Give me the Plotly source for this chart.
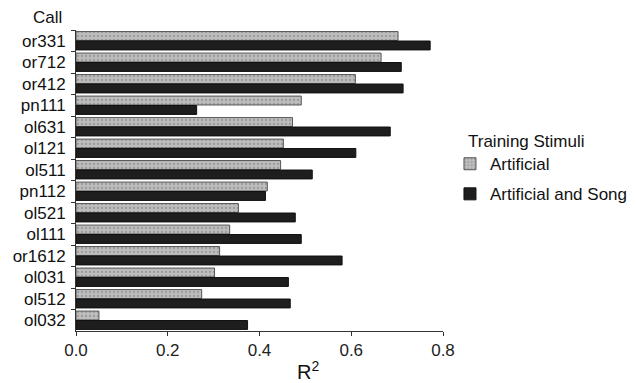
import plotly.graph_objects as go

calls = ["or331", "or712", "or412", "pn111", "ol631", "ol121", "ol511", "pn112",
         "ol521", "ol111", "or1612", "ol031", "ol512", "ol032"]
artificial = [0.702, 0.665, 0.609, 0.491, 0.472, 0.452, 0.446, 0.417,
              0.354, 0.335, 0.313, 0.302, 0.274, 0.050]
artificial_song = [0.772, 0.709, 0.713, 0.263, 0.685, 0.610, 0.515, 0.413,
                   0.478, 0.491, 0.580, 0.463, 0.467, 0.374]
x_ticks = [0.0, 0.2, 0.4, 0.6, 0.8]
x_tick_labels = ["0.0", "0.2", "0.4", "0.6", "0.8"]

FONT = "Liberation Sans, Arial, Helvetica, sans-serif"

fig = go.Figure()
fig.add_trace(go.Bar(
    y=calls, x=artificial, orientation="h", name="Artificial",
    legendgroup="a",
    marker=dict(color="#bdbdbd",
                line=dict(color="#555555", width=1),
                pattern=dict(shape=".", fgcolor="#777777", bgcolor="#bdbdbd",
                             size=4, solidity=0.25)),
))
fig.add_trace(go.Bar(
    y=calls, x=artificial_song, orientation="h", name="Artificial and Song",
    legendgroup="b",
    marker=dict(color="#1e1e1e", line=dict(color="#111111", width=1)),
))

# page body has an 8px default margin, so the figure is sized 8px smaller
fig.update_layout(
    width=628, height=375,
    margin=dict(l=68, r=193, t=22, b=52, autoexpand=False),
    paper_bgcolor="white", plot_bgcolor="white",
    barmode="group", bargap=0.12, bargroupgap=0.06,
    font=dict(family=FONT, size=17, color="#111111"),
    showlegend=True,
    legend=dict(
        x=1.019, y=0.614, xanchor="left", yanchor="top",
        traceorder="grouped", tracegroupgap=5,
        font=dict(size=17), itemwidth=30, bgcolor="rgba(0,0,0,0)",
    ),
    xaxis=dict(
        range=[0, 0.8], tickvals=x_ticks, ticktext=x_tick_labels,
        showgrid=False, zeroline=False, showline=True, linecolor="#333333",
        linewidth=1, ticks="outside", ticklen=4, tickcolor="#333333",
        tickfont=dict(size=17, color="#222222"), automargin=False,
    ),
    yaxis=dict(
        autorange="reversed", showgrid=False, showline=True,
        linecolor="#333333", linewidth=1, ticks="outside", ticklen=4,
        tickcolor="#333333", tickson="boundaries", automargin=False,
        ticklabelstandoff=6,
        tickfont=dict(size=17, color="#111111"),
    ),
    annotations=[
        dict(text="Call", x=-0.079, y=1.043, xref="paper", yref="paper",
             showarrow=False, font=dict(size=17), xanchor="center",
             yanchor="middle"),
        dict(text="R<sup>2</sup>", x=0.632, y=-0.13, xref="paper", yref="paper",
             showarrow=False, font=dict(size=20), xanchor="center",
             yanchor="middle"),
        dict(text="Training Stimuli", x=1.063, y=0.628, xref="paper",
             yref="paper", showarrow=False, font=dict(size=17),
             xanchor="left", yanchor="middle"),
    ],
)

fig.write_html("out.html")
